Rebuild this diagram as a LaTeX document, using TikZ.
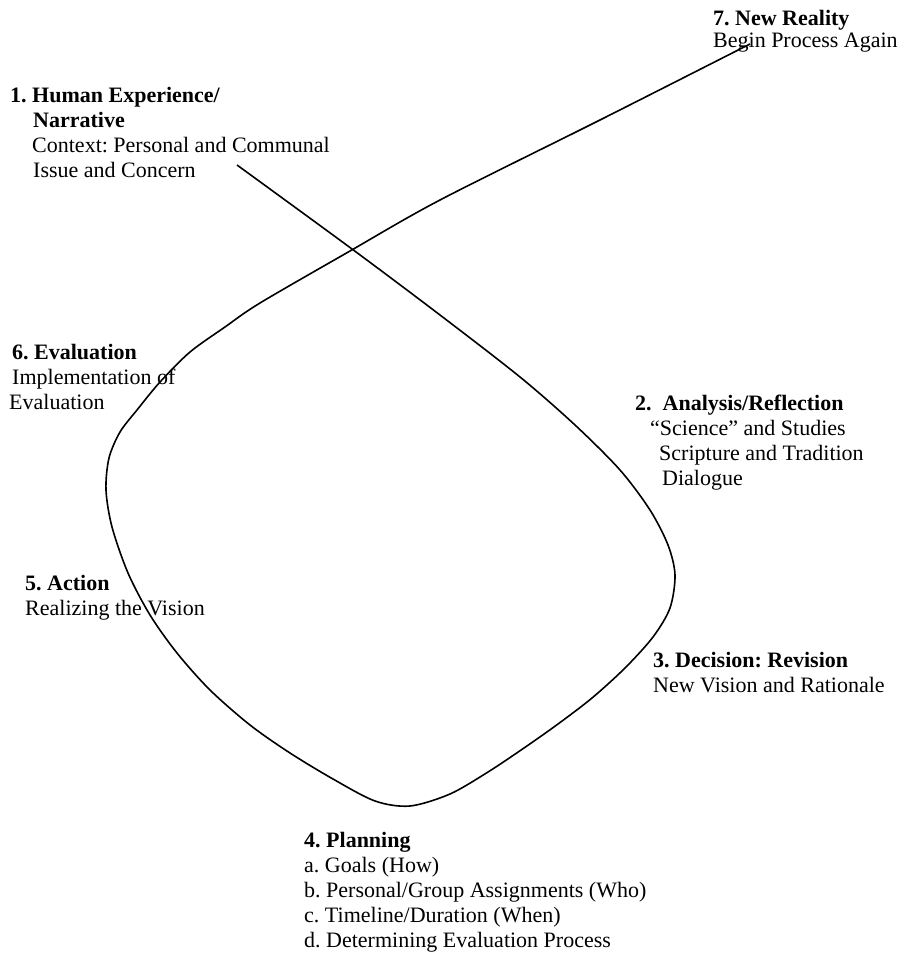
\documentclass[tikz,border=0pt]{standalone}
\usepackage{fontspec}
\setmainfont{Liberation Serif}
\usetikzlibrary{positioning}
\frenchspacing

\begin{document}
\begin{tikzpicture}[x=1pt,y=-1pt]
	\useasboundingbox (0,0) rectangle (910,953);
	% each node sits on the baseline of its last line
	\begin{scope}[every node/.style={anchor=base west,inner sep=0pt,align=left,
		font=\fontsize{22}{25}\selectfont}]
		\node (human) at (10,177) {\textbf{1. Human Experience/}\\
			\hspace*{23pt}\textbf{Narrative}\\
			\hspace*{22pt}Context: Personal and Communal\\
			\hspace*{23pt}Issue and Concern};
		\node (analysis) at (635,485) {\textbf{2.\ \ Analysis/Reflection}\\
			\hspace*{15pt}“Science” and Studies\\
			\hspace*{24pt}Scripture and Tradition\\
			\hspace*{27pt}Dialogue};
		\node (decision) at (653,692) {\textbf{3. Decision: Revision}\\New Vision and Rationale};
		\node (planning) at (304,947) {\textbf{4. Planning}\\
			a. Goals (How)\\
			b. Personal/Group Assignments (Who)\\
			c. Timeline/Duration (When)\\
			d. Determining Evaluation Process};
		\node (action) at (25,615) {\textbf{5. Action}\\Realizing the Vision};
		\node (evaluation) at (12,409) {\textbf{6. Evaluation}\\
			Implementation of\\
			\hspace*{-3pt}Evaluation};
		\node[font=\fontsize{22}{22}\selectfont] (reality) at (713,47) {\textbf{7. New Reality}\\Begin Process Again};
	\end{scope}

	% the loop
	\draw[line width=1.6pt] plot[smooth,tension=0.5] coordinates {(237,165) (352,249)
		(440,315) (520,377) (575,425) (620,470) (650,510) (668,545) (675,575)
		(670,608) (653,637) (625,668) (592,698) (558,724) (524,748) (488,772)
		(450,794) (410,806) (375,801) (333,779) (290,753) (250,725) (210,690)
		(177,653) (150,615) (128,573) (112,527) (106,490) (109,458) (120,432)
		(137,410) (160,382) (190,352) (225,327) (260,303) (350,251) (440,200)
		(600,120) (750,44)};
\end{tikzpicture}
\end{document}
